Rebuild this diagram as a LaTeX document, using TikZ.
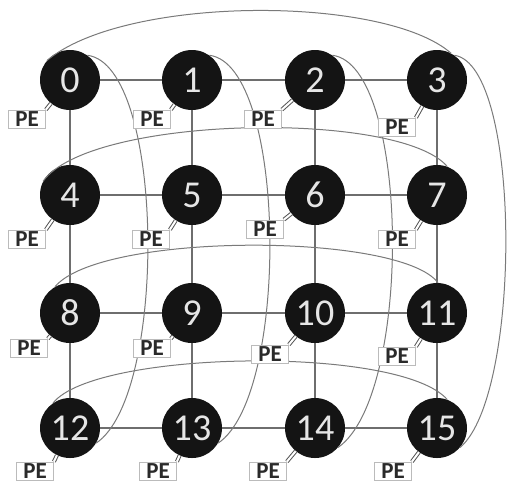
\documentclass[tikz,border=0pt]{standalone}
\usepackage{fontspec}
\setmainfont{Carlito}
\usetikzlibrary{calc}
\definecolor{gridc}{HTML}{6E6E6E}
\definecolor{wrapc}{HTML}{7A7A7A}
\definecolor{nodefill}{HTML}{141414}
\definecolor{boxc}{HTML}{BBBBBB}
\definecolor{petext}{HTML}{2A2A2A}
\definecolor{pelc}{HTML}{555555}
\definecolor{numc}{HTML}{E6E6E6}
\tikzset{
 proc/.style={circle, fill=nodefill, minimum size=60pt, inner sep=0pt, text=numc, font=\fontsize{38}{38}\selectfont},
 pebox/.style={draw=boxc, line width=0.8pt, fill=white, minimum width=37pt, minimum height=18pt, inner sep=0pt, text=petext, font=\fontsize{23}{23}\selectfont\bfseries},
 link/.style={draw=gridc, line width=1.6pt},
 wrap/.style={draw=wrapc, line width=1pt},
 pelink/.style={draw=pelc, line width=1pt, double=white, double distance=2pt},
}
\begin{document}
\begin{tikzpicture}[x=1pt,y=-1pt]
\useasboundingbox (0,0) rectangle (510,483);
% processor nodes
\node[proc] (n0) at (70,80) {0};
\node[proc] (n1) at (192,80) {1};
\node[proc] (n2) at (315,80) {2};
\node[proc] (n3) at (437,80) {3};
\node[proc] (n4) at (70,195) {4};
\node[proc] (n5) at (192,195) {5};
\node[proc] (n6) at (315,195) {6};
\node[proc] (n7) at (437,195) {7};
\node[proc] (n8) at (70,313) {8};
\node[proc] (n9) at (192,313) {9};
\node[proc] (n10) at (315,313) {10};
\node[proc] (n11) at (437,313) {11};
\node[proc] (n12) at (70,428) {12};
\node[proc] (n13) at (192,428) {13};
\node[proc] (n14) at (315,428) {14};
\node[proc] (n15) at (437,428) {15};
% mesh links
\foreach \a/\b in {0/1,1/2,2/3,4/5,5/6,6/7,8/9,9/10,10/11,12/13,13/14,14/15,
                   0/4,4/8,8/12,1/5,5/9,9/13,2/6,6/10,10/14,3/7,7/11,11/15}
  \draw[link] (n\a) -- (n\b);
% row wrap-around links
\draw[wrap] (n0.140) .. controls (125,-5) and (385,-5) .. (n3.62);
\draw[wrap] (n4.153) .. controls (90,115) and (400,110) .. (n7.70);
\draw[wrap] (n8.120) .. controls (100,232) and (400,232) .. (n11.88);
\draw[wrap] (n12.124) .. controls (95,350) and (400,345) .. (n15.70);
% column wrap-around links
\draw[wrap] (n0.55) .. controls ($(n0)+(95,-15)$) and ($(n12)+(98,-33)$) .. (n12.-30);
\draw[wrap] (n1.55) .. controls ($(n1)+(95,-15)$) and ($(n13)+(98,-33)$) .. (n13.-30);
\draw[wrap] (n2.55) .. controls ($(n2)+(95,-15)$) and ($(n14)+(98,-33)$) .. (n14.-40);
\draw[wrap] (n3.55) .. controls ($(n3)+(85,-15)$) and ($(n15)+(85,-33)$) .. (n15.-40);
% PE boxes
\node[pebox] (p0) at (27,119) {PE};
\node[pebox] (p1) at (152,119) {PE};
\node[pebox] (p2) at (263,119) {PE};
\node[pebox] (p3) at (397,127) {PE};
\node[pebox] (p4) at (27,239) {PE};
\node[pebox] (p5) at (151,239) {PE};
\node[pebox] (p6) at (265,229) {PE};
\node[pebox] (p7) at (397,239) {PE};
\node[pebox] (p8) at (29,348) {PE};
\node[pebox] (p9) at (152,348) {PE};
\node[pebox] (p10) at (270,354) {PE};
\node[pebox] (p11) at (397,356) {PE};
\node[pebox] (p12) at (35,471) {PE};
\node[pebox] (p13) at (158,471) {PE};
\node[pebox] (p14) at (268,471) {PE};
\node[pebox] (p15) at (393,471) {PE};
\foreach \i in {0,...,15}
  \draw[pelink] (p\i.north east) -- (n\i);
\end{tikzpicture}
\end{document}
